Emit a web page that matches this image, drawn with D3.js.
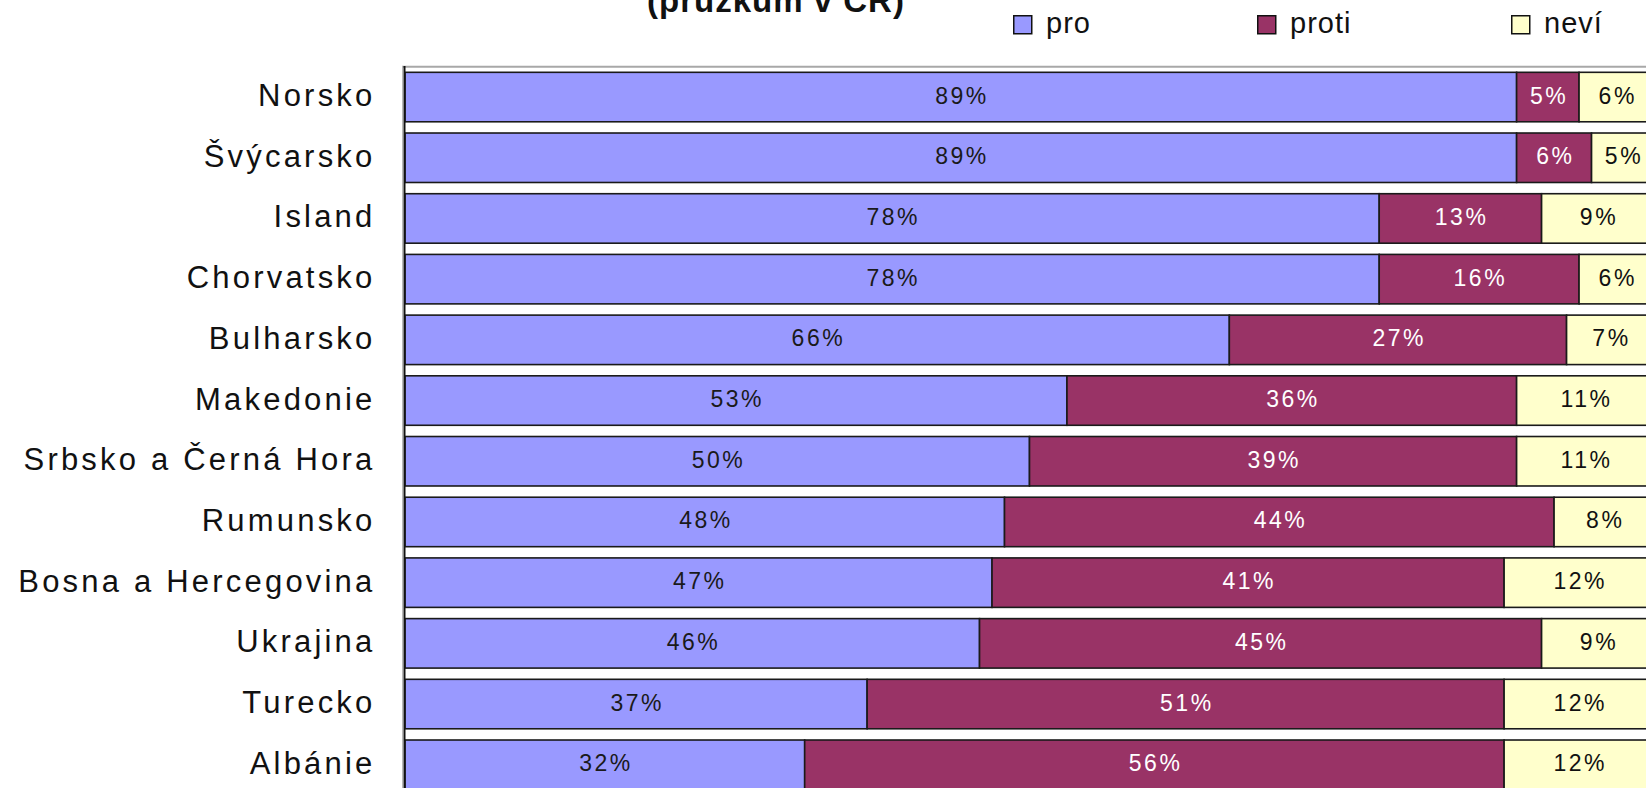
<!DOCTYPE html>
<html>
<head>
<meta charset="utf-8">
<script src="https://cdn.jsdelivr.net/npm/d3@7"></script>
<style>
  html, body { margin: 0; padding: 0; background: #fff; overflow: hidden; }
  svg { display: block; }
  text { font-family: "Liberation Sans", Arial, sans-serif; }
</style>
</head>
<body>
<svg id="chart" width="1646" height="788"></svg>
<script>
const categories = ["Norsko","Švýcarsko","Island","Chorvatsko","Bulharsko","Makedonie","Srbsko a Černá Hora","Rumunsko","Bosna a Hercegovina","Ukrajina","Turecko","Albánie"];
const pro   = [89, 89, 78, 78, 66, 53, 50, 48, 47, 46, 37, 32];
const proti = [ 5,  6, 13, 16, 27, 36, 39, 44, 41, 45, 51, 56];
const nevi  = [ 6,  5,  9,  6,  7, 11, 11,  8, 12,  9, 12, 12];
const seriesNames = ["pro", "proti", "neví"];
const seriesKeys = ["pro", "proti", "nevi"];
const colors = ["#9999FF", "#993366", "#FFFFCC"];
const labelColors = ["#1a1a1a", "#ffffff", "#111111"];
const titleText = "(průzkum v ČR)";

const rows = categories.map((c, i) => ({ cat: c, pro: pro[i], proti: proti[i], nevi: nevi[i] }));

const svg = d3.select("#chart");
const W = 1646, H = 788;

const x = d3.scaleLinear().domain([0, 100]).range([405, 1654]);
const y = d3.scaleBand().domain(categories).range([66.7, 66.7 + 12 * 60.7])
  .paddingInner(0.185).paddingOuter(0.0925);

// title (visible lower line)
svg.append("text")
  .attr("x", 776).attr("y", 12)
  .attr("text-anchor", "middle")
  .style("font-size", "33px").style("font-weight", "bold")
  .style("letter-spacing", "1px")
  .attr("fill", "#111")
  .text(titleText);

// legend
const legendX = [1013, 1257, 1511];
const lg = svg.append("g").selectAll("g").data(seriesNames).join("g")
  .attr("transform", (d, i) => `translate(${legendX[i]},15)`);
lg.append("rect").attr("x", 0.75).attr("y", 0.75).attr("width", 18).attr("height", 18)
  .attr("fill", (d, i) => colors[i]).attr("stroke", "#111").attr("stroke-width", 1.5);
lg.append("text").attr("x", 33).attr("y", 18)
  .style("font-size", "29px").style("letter-spacing", "1px")
  .attr("fill", "#111").text(d => d);

// plot area top border
svg.append("line")
  .attr("x1", 402).attr("x2", W).attr("y1", 66.7).attr("y2", 66.7)
  .attr("stroke", "#a8a8a8").attr("stroke-width", 2);
svg.append("line")
  .attr("x1", 402.5).attr("x2", 402.5).attr("y1", 66).attr("y2", H)
  .attr("stroke", "#b8b8b8").attr("stroke-width", 1);

// stacked bars
const stack = d3.stack().keys(seriesKeys);
const stacked = stack(rows);

const layers = svg.append("g").selectAll("g").data(stacked).join("g")
  .attr("fill", (d, i) => colors[i]);

layers.selectAll("rect").data(d => d).join("rect")
  .attr("x", d => x(d[0]))
  .attr("y", d => y(d.data.cat))
  .attr("width", d => x(d[1]) - x(d[0]))
  .attr("height", y.bandwidth())
  .attr("stroke", "#1a1a1a")
  .attr("stroke-width", 1.6);

// value labels
layers.each(function (layer, li) {
  d3.select(this).selectAll("text").data(layer).join("text")
    .attr("x", d => (x(d[0]) + x(d[1])) / 2 + 1.2)
    .attr("y", d => y(d.data.cat) + y.bandwidth() / 2 + 6.5)
    .attr("text-anchor", "middle")
    .style("font-size", "23px")
    .style("letter-spacing", "2.5px")
    .attr("fill", labelColors[li])
    .text(d => (d[1] - d[0]) + "%");
});

// category axis
const axis = svg.append("g")
  .attr("transform", "translate(404.5,0)")
  .call(d3.axisLeft(y).tickSize(0).tickPadding(0));
axis.select(".domain").attr("stroke", "#111").attr("stroke-width", 2)
  .attr("d", `M0,66V${H}`);
axis.selectAll(".tick text")
  .attr("x", -29)
  .attr("dy", null)
  .attr("y", 9)
  .style("font-family", "'Liberation Sans', Arial, sans-serif")
  .style("font-size", "31px")
  .style("letter-spacing", "3.2px")
  .attr("fill", "#111");
</script>
</body>
</html>
